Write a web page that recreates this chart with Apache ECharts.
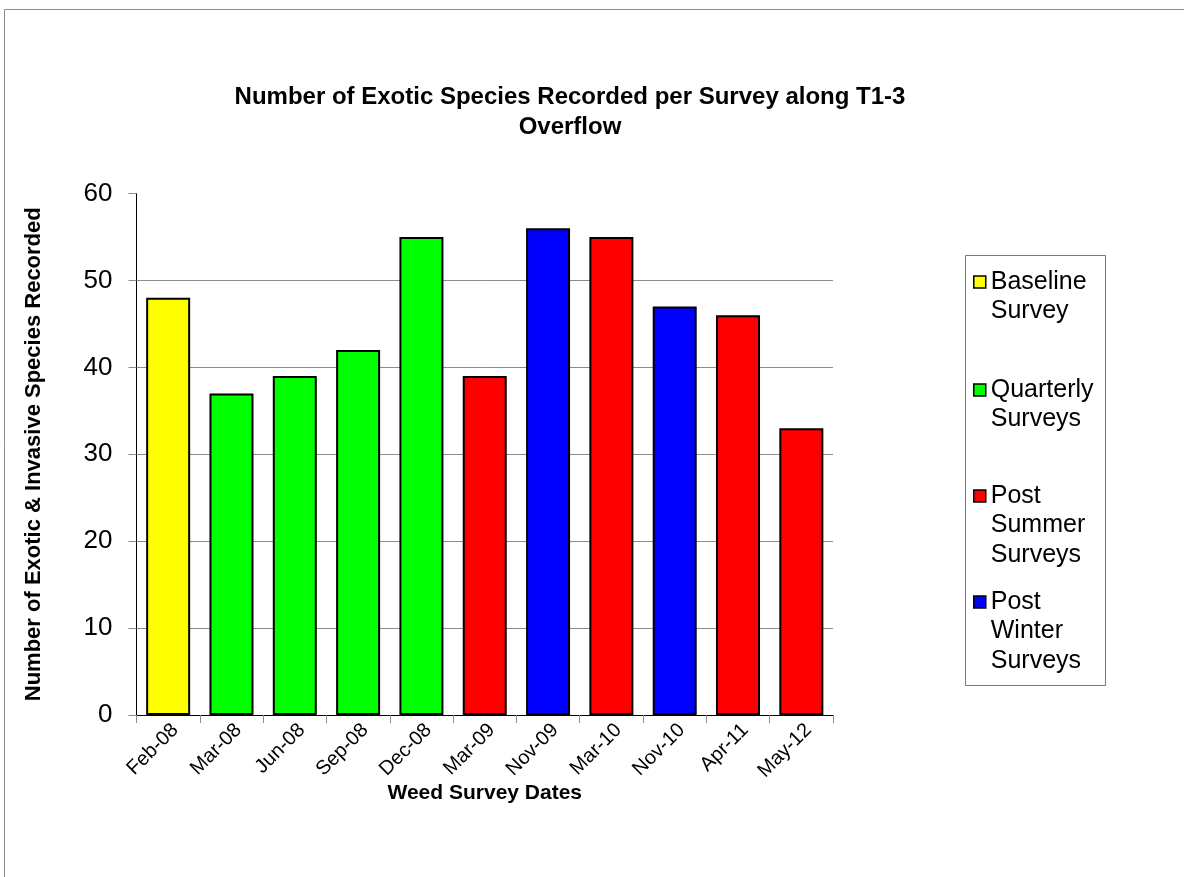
<!DOCTYPE html>
<html>
<head>
<meta charset="utf-8">
<title>Exotic Species per Survey – T1-3 Overflow</title>
<script src="https://cdn.jsdelivr.net/npm/echarts@6/dist/echarts.min.js"></script>
<style>
  html, body { margin: 0; padding: 0; background: #fff; }
  #chart { width: 1184px; height: 877px; }
</style>
</head>
<body>
<div id="chart"></div>
<script>
// Survey dates along the T1-3 overflow transect
const surveyDates = ['Feb-08', 'Mar-08', 'Jun-08', 'Sep-08', 'Dec-08', 'Mar-09',
                     'Nov-09', 'Mar-10', 'Nov-10', 'Apr-11', 'May-12'];
// Exotic & invasive species recorded at each survey
const speciesCounts = [48, 37, 39, 42, 55, 39, 56, 55, 47, 46, 33];
// Survey type of each date
const surveyTypes = ['Baseline Survey', 'Quarterly Surveys', 'Quarterly Surveys', 'Quarterly Surveys',
                     'Quarterly Surveys', 'Post Summer Surveys', 'Post Winter Surveys',
                     'Post Summer Surveys', 'Post Winter Surveys', 'Post Summer Surveys',
                     'Post Summer Surveys'];
// Legend entries, their wrapped labels and fill colours
const typeNames = ['Baseline Survey', 'Quarterly Surveys', 'Post Summer Surveys', 'Post Winter Surveys'];
const typeLines = [['Baseline', 'Survey'], ['Quarterly', 'Surveys'],
                   ['Post', 'Summer', 'Surveys'], ['Post', 'Winter', 'Surveys']];
const typeColors = ['#FFFF00', '#00FF00', '#FF0000', '#0000FF'];
const yTicks = [0, 10, 20, 30, 40, 50, 60];

const FONT = '"Liberation Sans", Arial, Helvetica, sans-serif';
const LEGEND_LH = 29.5;
const legendFirstLineY = [282, 390, 496, 602];

const chart = echarts.init(document.getElementById('chart'), null, { renderer: 'canvas' });

// one series per survey type, overlapping in the same slot
const series = typeNames.map((name, i) => ({
  name: name,
  type: 'bar',
  barWidth: 44,
  barGap: '-100%',
  itemStyle: { color: typeColors[i], borderColor: '#000', borderWidth: 2 },
  emphasis: { disabled: true },
  data: speciesCounts.map((v, k) => (surveyTypes[k] === name ? v : '-'))
}));

// one legend block per type, icon level with the first text line
const legends = typeNames.map((name, i) => {
  const n = typeLines[i].length;
  const text = '\n'.repeat(n - 1) + typeLines[i].join('\n');
  return {
    data: [name],
    orient: 'vertical',
    left: 973,
    top: legendFirstLineY[i] - (2 * n - 1) * LEGEND_LH / 2,
    padding: 0,
    itemWidth: 12,
    itemHeight: 12,
    itemGap: 0,
    selectedMode: false,
    icon: 'rect',
    itemStyle: { borderColor: '#000', borderWidth: 1.5 },
    formatter: () => text,
    textStyle: { fontFamily: FONT, fontSize: 25, color: '#000', lineHeight: LEGEND_LH }
  };
});

const gridColors = yTicks.map((t, i) => (i === yTicks.length - 1 ? 'rgba(0,0,0,0)' : '#8c8c8c'));

chart.setOption({
  backgroundColor: '#ffffff',
  animation: false,
  title: {
    text: 'Number of Exotic Species Recorded per Survey along T1-3\nOverflow',
    left: 565,
    top: 77,
    textAlign: 'center',
    textStyle: { fontFamily: FONT, fontSize: 24, fontWeight: 'bold', color: '#000', lineHeight: 30 }
  },
  legend: legends,
  grid: { left: 136.5, right: 351, top: 193.5, bottom: 162, containLabel: false },
  xAxis: {
    type: 'category',
    data: surveyDates,
    name: 'Weed Survey Dates',
    nameLocation: 'middle',
    nameGap: 68,
    nameMoveOverlap: false,
    nameTextStyle: { fontFamily: FONT, fontSize: 21, fontWeight: 'bold', color: '#000' },
    axisLine: { lineStyle: { color: '#000', width: 1 } },
    axisTick: { show: true, length: 8, lineStyle: { color: '#8c8c8c' } },
    axisLabel: {
      rotate: 45, align: 'right', verticalAlign: 'top',
      fontFamily: FONT, fontSize: 20, color: '#000', margin: 5, interval: 0
    }
  },
  yAxis: {
    type: 'value',
    min: yTicks[0],
    max: yTicks[yTicks.length - 1],
    interval: 10,
    name: 'Number of Exotic & Invasive Species Recorded',
    nameLocation: 'middle',
    nameRotate: 90,
    nameGap: 92,
    nameMoveOverlap: false,
    nameTextStyle: { fontFamily: FONT, fontSize: 22, fontWeight: 'bold', color: '#000' },
    axisLine: { show: true, lineStyle: { color: '#000', width: 1 } },
    axisTick: { show: true, length: 8, lineStyle: { color: '#8c8c8c' } },
    axisLabel: { fontFamily: FONT, fontSize: 26, color: '#000', margin: 24 },
    splitLine: { show: true, lineStyle: { color: gridColors, width: 1 } }
  },
  series: series,
  graphic: [
    {
      type: 'rect',
      shape: { x: 4.5, y: 9.5, width: 1200, height: 900 },
      style: { fill: 'none', stroke: '#8c8c8c', lineWidth: 1 },
      silent: true,
      z: -1
    },
    {
      type: 'rect',
      shape: { x: 965.5, y: 255.5, width: 140, height: 430 },
      style: { fill: 'none', stroke: '#7a7a7a', lineWidth: 1 },
      silent: true,
      z: -1
    }
  ]
});
</script>
</body>
</html>
